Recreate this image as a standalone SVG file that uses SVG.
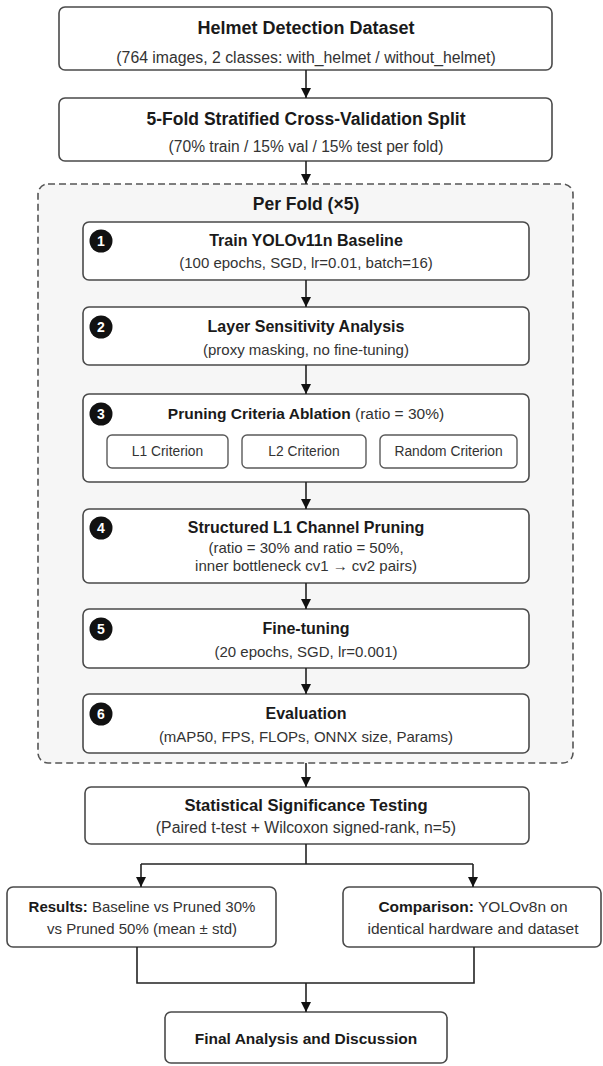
<svg xmlns="http://www.w3.org/2000/svg" width="603" height="1066" viewBox="0 0 603 1066">
<defs>
<style>
.box{fill:#ffffff;stroke:#4a4a4a;stroke-width:1.6}
.sub{fill:#ffffff;stroke:#5a5a5a;stroke-width:1.4}
.fold{fill:#f6f6f6;stroke:#555555;stroke-width:1.6;stroke-dasharray:7 4}
.t{font-family:"Liberation Sans",Arial,sans-serif;font-weight:bold;fill:#1a1a1a;text-anchor:middle}
.s{font-family:"Liberation Sans",Arial,sans-serif;fill:#333333;text-anchor:middle}
.b{font-weight:bold;fill:#1a1a1a}
.badge{fill:#111111}
.bn{font-family:"Liberation Sans",Arial,sans-serif;font-weight:bold;fill:#ffffff;text-anchor:middle;font-size:14px}
.ln{fill:none;stroke:#222222;stroke-width:1.6}
</style>
<marker id="arr" viewBox="0 0 10 10" refX="10" refY="5" markerWidth="10" markerHeight="10" markerUnits="userSpaceOnUse" orient="auto">
<path d="M0,0 L10,5 L0,10 z" fill="#111111"/>
</marker>
</defs>
<rect width="603" height="1066" fill="#ffffff"/>

<g id="fold">
<rect class="fold" x="38" y="184" width="535" height="579" rx="10"/>
<text class="t" x="306" y="210" font-size="17.5">Per Fold (×5)</text>
</g>

<g id="dataset">
<rect class="box" x="59" y="7" width="493" height="63" rx="6"/>
<text class="t" x="306" y="34" font-size="18">Helmet Detection Dataset</text>
<text class="s" x="306" y="63" font-size="15.8">(764 images, 2 classes: with_helmet / without_helmet)</text>
</g>

<g id="split">
<rect class="box" x="59" y="98" width="493" height="63" rx="6"/>
<text class="t" x="306" y="125" font-size="17.5">5-Fold Stratified Cross-Validation Split</text>
<text class="s" x="306" y="152" font-size="15.6">(70% train / 15% val / 15% test per fold)</text>
</g>

<g id="step1">
<rect class="box" x="83" y="222" width="446" height="58" rx="6"/>
<circle class="badge" cx="101" cy="241" r="11.5"/>
<text class="bn" x="101" y="246">1</text>
<text class="t" x="306" y="246" font-size="16">Train YOLOv11n Baseline</text>
<text class="s" x="306" y="268" font-size="15">(100 epochs, SGD, lr=0.01, batch=16)</text>
</g>

<g id="step2">
<rect class="box" x="83" y="307" width="446" height="58" rx="6"/>
<circle class="badge" cx="101" cy="327" r="11.5"/>
<text class="bn" x="101" y="332">2</text>
<text class="t" x="306" y="332" font-size="16">Layer Sensitivity Analysis</text>
<text class="s" x="306" y="355" font-size="15">(proxy masking, no fine-tuning)</text>
</g>

<g id="step3">
<rect class="box" x="83" y="394" width="446" height="88" rx="6"/>
<circle class="badge" cx="101" cy="414" r="11.5"/>
<text class="bn" x="101" y="419">3</text>
<text class="s" x="306" y="419" font-size="15.5"><tspan class="b">Pruning Criteria Ablation</tspan> (ratio = 30%)</text>
</g>
<g id="l1">
<rect class="sub" x="107" y="435" width="121" height="33" rx="5"/>
<text class="s" x="167.5" y="456" font-size="13.8">L1 Criterion</text>
</g>
<g id="l2">
<rect class="sub" x="242" y="435" width="124" height="33" rx="5"/>
<text class="s" x="304" y="456" font-size="13.8">L2 Criterion</text>
</g>
<g id="random">
<rect class="sub" x="380" y="435" width="137" height="33" rx="5"/>
<text class="s" x="448.5" y="456" font-size="13.8">Random Criterion</text>
</g>

<g id="step4">
<rect class="box" x="83" y="509" width="446" height="74" rx="6"/>
<circle class="badge" cx="101" cy="528" r="11.5"/>
<text class="bn" x="101" y="533">4</text>
<text class="t" x="306" y="533" font-size="16">Structured L1 Channel Pruning</text>
<text class="s" x="306" y="553" font-size="15">(ratio = 30% and ratio = 50%,</text>
<text class="s" x="306" y="571" font-size="15">inner bottleneck cv1 → cv2 pairs)</text>
</g>

<g id="step5">
<rect class="box" x="83" y="609" width="446" height="59" rx="6"/>
<circle class="badge" cx="101" cy="629" r="11.5"/>
<text class="bn" x="101" y="634">5</text>
<text class="t" x="306" y="634" font-size="16">Fine-tuning</text>
<text class="s" x="306" y="657" font-size="15">(20 epochs, SGD, lr=0.001)</text>
</g>

<g id="step6">
<rect class="box" x="83" y="694" width="446" height="59" rx="6"/>
<circle class="badge" cx="101" cy="714" r="11.5"/>
<text class="bn" x="101" y="719">6</text>
<text class="t" x="306" y="719" font-size="16">Evaluation</text>
<text class="s" x="306" y="742" font-size="15">(mAP50, FPS, FLOPs, ONNX size, Params)</text>
</g>

<g id="stats">
<rect class="box" x="85" y="787" width="444" height="57" rx="6"/>
<text class="t" x="306" y="811" font-size="16.6">Statistical Significance Testing</text>
<text class="s" x="306" y="833" font-size="15.8">(Paired t-test + Wilcoxon signed-rank, n=5)</text>
</g>

<g id="results">
<rect class="box" x="7" y="887" width="269" height="60" rx="6"/>
<text class="s" x="142" y="912" font-size="15"><tspan class="b">Results:</tspan> Baseline vs Pruned 30%</text>
<text class="s" x="142" y="934" font-size="15">vs Pruned 50% (mean ± std)</text>
</g>

<g id="comparison">
<rect class="box" x="343" y="887" width="258" height="60" rx="6"/>
<text class="s" x="473" y="912" font-size="15.5"><tspan class="b">Comparison:</tspan> YOLOv8n on</text>
<text class="s" x="473" y="934" font-size="15.5">identical hardware and dataset</text>
</g>

<g id="final">
<rect class="box" x="165" y="1012" width="282" height="51" rx="6"/>
<text class="t" x="306" y="1044" font-size="15.5">Final Analysis and Discussion</text>
</g>

<g id="connectors">
<line class="ln" x1="306" y1="70" x2="306" y2="98" marker-end="url(#arr)"/>
<line class="ln" x1="306" y1="161" x2="306" y2="184" marker-end="url(#arr)"/>
<line class="ln" x1="306" y1="280" x2="306" y2="307" marker-end="url(#arr)"/>
<line class="ln" x1="306" y1="365" x2="306" y2="394" marker-end="url(#arr)"/>
<line class="ln" x1="306" y1="482" x2="306" y2="509" marker-end="url(#arr)"/>
<line class="ln" x1="306" y1="583" x2="306" y2="609" marker-end="url(#arr)"/>
<line class="ln" x1="306" y1="668" x2="306" y2="694" marker-end="url(#arr)"/>
<line class="ln" x1="306" y1="763" x2="306" y2="787" marker-end="url(#arr)"/>
<polyline class="ln" points="306,844 306,864"/>
<polyline class="ln" points="141,864 473,864"/>
<line class="ln" x1="141" y1="864" x2="141" y2="887" marker-end="url(#arr)"/>
<line class="ln" x1="473" y1="864" x2="473" y2="887" marker-end="url(#arr)"/>
<polyline class="ln" points="137,947 137,983 474,983 474,947"/>
<line class="ln" x1="306" y1="983" x2="306" y2="1012" marker-end="url(#arr)"/>
</g>
</svg>
